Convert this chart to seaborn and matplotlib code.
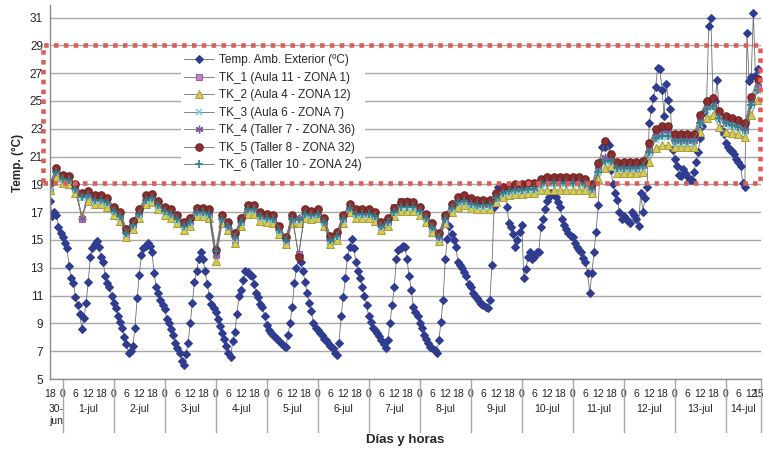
import matplotlib
matplotlib.use('Agg')
import matplotlib.pyplot as plt
import seaborn as sns
from matplotlib.patches import Rectangle

# Temperatura ambiente exterior, un dato por hora (30-jun 18h ... 14-jul 15h)
ext_30jun = [17.8, 16.7, 17.0, 16.8, 15.9, 15.5]
ext_01jul = [15.2, 14.8, 14.4, 13.1, 12.3, 11.9, 10.9, 10.3, 9.7, 8.6, 9.4, 10.5,
             12.0, 13.8, 14.4, 14.7, 14.9, 14.5, 13.8, 13.4, 12.4, 11.9, 11.6, 11.0]
ext_02jul = [10.5, 10.1, 9.5, 9.1, 8.7, 8.0, 7.5, 6.9, 7.0, 7.4, 8.7, 10.8,
             12.5, 13.9, 14.4, 14.6, 14.8, 14.6, 14.1, 12.6, 11.6, 11.2, 10.7, 10.3]
ext_03jul = [10.0, 9.3, 9.0, 8.6, 8.2, 7.6, 7.2, 6.9, 6.3, 6.0, 6.8, 7.6,
             9.0, 10.5, 12.0, 12.8, 13.6, 14.1, 13.6, 12.8, 11.8, 11.0, 10.4, 10.1]
ext_04jul = [9.8, 9.3, 8.8, 8.3, 7.9, 7.4, 6.9, 6.6, 7.7, 8.4, 9.7, 11.0,
             11.4, 12.1, 12.8, 12.7, 12.5, 12.4, 11.8, 11.2, 10.9, 10.4, 10.2, 9.5]
ext_05jul = [8.9, 8.5, 8.3, 8.2, 8.0, 7.9, 7.7, 7.5, 7.4, 7.3, 8.2, 9.0,
             10.2, 11.9, 13.0, 13.9, 13.4, 12.8, 12.0, 11.2, 10.5, 9.9, 9.0, 8.7]
ext_06jul = [8.5, 8.3, 8.2, 7.9, 7.8, 7.6, 7.4, 7.2, 6.9, 6.7, 7.6, 9.5,
             10.9, 12.3, 13.8, 14.5, 15.1, 14.4, 13.4, 12.8, 12.3, 11.6, 11.0, 10.3]
ext_07jul = [9.5, 9.1, 8.7, 8.5, 8.3, 8.1, 7.8, 7.5, 7.2, 7.8, 9.0, 10.3,
             11.6, 13.6, 14.3, 14.4, 14.6, 14.5, 13.6, 12.4, 11.4, 10.2, 9.8, 9.5]
ext_08jul = [9.0, 8.7, 8.2, 7.9, 7.6, 7.3, 7.2, 7.1, 6.9, 7.8, 9.1, 10.7,
             13.6, 15.1, 16.0, 15.4, 15.0, 14.5, 13.4, 13.2, 13.0, 12.7, 12.4, 11.8]
ext_09jul = [11.6, 11.2, 11.0, 10.8, 10.6, 10.4, 10.3, 10.2, 10.1, 10.7, 13.2, 17.4,
             18.4, 18.8, 18.6, 18.5, 18.7, 17.4, 16.2, 15.9, 15.4, 14.5, 15.0, 15.6]
ext_10jul = [16.1, 12.3, 12.9, 13.8, 14.1, 13.6, 13.8, 14.1, 14.1, 15.9, 16.5, 17.2,
             17.8, 18.1, 18.4, 18.4, 18.1, 17.7, 17.4, 16.5, 16.1, 15.8, 15.5, 15.3]
ext_11jul = [15.2, 14.8, 14.5, 14.3, 14.1, 13.7, 13.4, 12.6, 11.2, 12.6, 14.1, 15.6,
             17.5, 20.6, 21.7, 21.7, 22.0, 21.8, 20.0, 19.0, 18.4, 17.9, 17.0, 16.5]
ext_12jul = [16.7, 16.5, 16.4, 16.2, 17.0, 16.8, 16.5, 16.0, 18.4, 17.0, 18.0, 18.8,
             23.4, 24.4, 25.2, 26.0, 27.4, 27.3, 25.8, 23.9, 26.2, 25.1, 24.4, 21.5]
ext_13jul = [20.8, 20.3, 19.7, 19.6, 20.1, 19.8, 19.6, 19.3, 19.3, 19.9, 20.6, 21.3,
             22.3, 23.2, 24.2, 24.9, 30.4, 31.0, 25.2, 25.0, 26.5, 23.8, 23.0, 22.6]
ext_14jul = [22.0, 21.7, 21.5, 21.4, 21.2, 20.8, 20.6, 20.3, 19.1, 18.8, 29.9, 26.4,
             26.7, 31.3, 26.8, 27.3]

temp_ext = (ext_30jun + ext_01jul + ext_02jul + ext_03jul + ext_04jul + ext_05jul
            + ext_06jul + ext_07jul + ext_08jul + ext_09jul + ext_10jul + ext_11jul
            + ext_12jul + ext_13jul + ext_14jul)
horas_ext = list(range(18, 352))          # horas desde 30-jun 0h

# Sondas interiores, un dato cada 3 horas
horas_tk = list(range(18, 352, 3))

tk_1 = [18.5, 19.9, 19.4, 19.3, 18.7, 16.5, 18.2, 17.9, 17.9, 17.7,
        17.1, 16.7, 15.4, 16.1, 16.9, 17.9, 18.0, 17.5, 17.1, 16.9,
        16.5, 16.0, 16.3, 17.0, 17.0, 16.9, 13.9, 16.5, 15.9, 15.0,
        16.3, 17.2, 17.2, 16.7, 16.6, 16.5, 15.7, 14.9, 16.5, 14.0,
        16.9, 16.8, 16.9, 16.3, 14.9, 15.3, 16.5, 17.3, 16.9, 16.9,
        16.9, 16.7, 15.9, 16.3, 17.4, 17.8, 17.8, 17.6, 17.1, 16.6,
        15.8, 15.0, 16.5, 17.4, 17.8, 17.9, 17.7, 17.6, 17.6, 17.6,
        18.1, 18.5, 18.6, 18.7, 18.7, 18.8, 18.8, 19.1, 19.2, 19.2,
        19.2, 19.2, 19.2, 19.2, 19.1, 18.5, 20.1, 20.8, 20.7, 20.2,
        20.2, 20.2, 20.2, 20.4, 21.5, 22.5, 22.7, 22.7, 22.2, 22.2,
        22.2, 22.2, 23.6, 24.6, 24.8, 23.9, 23.5, 23.4, 23.2, 22.9,
        24.9, 26.0]
tk_2 = [18.6, 19.5, 19.1, 19.0, 18.4, 16.8, 17.8, 17.6, 17.6, 17.4,
        16.8, 16.4, 15.2, 15.8, 16.6, 17.6, 17.7, 17.2, 16.8, 16.6,
        16.2, 15.7, 16.0, 16.7, 16.7, 16.6, 13.5, 16.2, 15.7, 14.8,
        16.0, 16.9, 16.9, 16.4, 16.3, 16.2, 15.4, 14.7, 16.2, 16.2,
        16.6, 16.5, 16.6, 16.0, 14.7, 15.0, 16.2, 17.0, 16.6, 16.6,
        16.6, 16.4, 15.7, 16.0, 16.7, 17.1, 17.1, 17.1, 16.8, 16.3,
        15.6, 14.9, 16.2, 17.0, 17.4, 17.5, 17.3, 17.2, 17.2, 17.2,
        17.7, 18.1, 18.2, 18.3, 18.3, 18.4, 18.4, 18.6, 18.6, 18.6,
        18.6, 18.6, 18.6, 18.6, 18.6, 18.4, 19.4, 20.2, 20.3, 19.8,
        19.8, 19.8, 19.8, 19.9, 20.6, 21.6, 21.8, 21.8, 21.7, 21.7,
        21.7, 21.7, 22.8, 23.8, 24.0, 23.1, 22.8, 22.7, 22.6, 22.4,
        24.0, 25.1]
tk_3 = [18.8, 19.8, 19.3, 19.2, 18.6, 18.0, 18.1, 17.8, 17.8, 17.6,
        17.0, 16.6, 15.4, 16.0, 16.8, 17.8, 17.9, 17.4, 17.0, 16.8,
        16.4, 15.9, 16.2, 16.9, 16.9, 16.8, 14.1, 16.4, 15.9, 15.1,
        16.2, 17.1, 17.1, 16.6, 16.5, 16.4, 15.6, 14.9, 16.4, 16.4,
        16.8, 16.7, 16.8, 16.2, 14.9, 15.2, 16.4, 17.2, 16.8, 16.8,
        16.8, 16.6, 15.9, 16.2, 16.9, 17.3, 17.3, 17.3, 17.0, 16.5,
        15.8, 15.1, 16.4, 17.2, 17.6, 17.7, 17.5, 17.4, 17.4, 17.4,
        17.9, 18.3, 18.4, 18.5, 18.5, 18.6, 18.6, 18.9, 19.0, 19.0,
        19.0, 19.0, 19.0, 19.0, 18.9, 18.6, 19.8, 20.6, 20.6, 20.1,
        20.1, 20.1, 20.1, 20.2, 21.2, 22.2, 22.4, 22.4, 22.0, 22.0,
        22.0, 22.0, 23.3, 24.3, 24.5, 23.7, 23.3, 23.2, 23.0, 22.8,
        24.6, 25.7]
tk_4 = [19.0, 20.1, 19.6, 19.5, 18.9, 16.6, 18.4, 18.1, 18.1, 17.9,
        17.3, 16.9, 15.6, 16.3, 17.1, 18.1, 18.2, 17.7, 17.3, 17.1,
        16.7, 16.2, 16.5, 17.2, 17.2, 17.1, 14.0, 16.7, 16.1, 15.3,
        16.5, 17.4, 17.4, 16.9, 16.8, 16.7, 15.9, 15.1, 16.7, 16.6,
        17.1, 17.0, 17.1, 16.5, 15.1, 15.5, 16.7, 17.5, 17.1, 17.1,
        17.1, 16.9, 16.1, 16.5, 17.2, 17.7, 17.8, 17.7, 17.3, 16.8,
        16.0, 15.3, 16.7, 17.6, 18.0, 18.1, 17.9, 17.8, 17.8, 17.8,
        18.3, 18.7, 18.8, 18.9, 18.9, 19.0, 19.0, 19.3, 19.4, 19.4,
        19.4, 19.4, 19.4, 19.4, 19.3, 18.8, 20.3, 21.0, 20.9, 20.4,
        20.4, 20.4, 20.4, 20.5, 21.8, 22.7, 22.9, 22.9, 22.4, 22.4,
        22.4, 22.4, 23.8, 24.8, 25.0, 24.1, 23.7, 23.6, 23.4, 23.1,
        25.1, 26.3]
tk_5 = [19.1, 20.2, 19.7, 19.6, 19.0, 18.4, 18.5, 18.2, 18.2, 18.0,
        17.4, 17.0, 15.8, 16.4, 17.2, 18.2, 18.3, 17.8, 17.4, 17.2,
        16.8, 16.3, 16.6, 17.3, 17.3, 17.2, 14.3, 16.8, 16.3, 15.5,
        16.6, 17.5, 17.5, 17.0, 16.9, 16.8, 16.0, 15.2, 16.8, 13.8,
        17.2, 17.1, 17.2, 16.6, 15.3, 15.6, 16.8, 17.6, 17.2, 17.2,
        17.2, 17.0, 16.3, 16.6, 17.3, 17.7, 17.7, 17.7, 17.4, 16.9,
        16.2, 15.5, 16.8, 17.6, 18.1, 18.2, 18.0, 17.9, 17.9, 17.9,
        18.4, 18.8, 18.9, 19.0, 19.0, 19.1, 19.1, 19.4, 19.5, 19.5,
        19.5, 19.5, 19.5, 19.5, 19.4, 19.0, 20.5, 22.1, 21.2, 20.6,
        20.6, 20.6, 20.6, 20.7, 22.0, 23.0, 23.2, 23.2, 22.6, 22.6,
        22.6, 22.6, 24.0, 25.0, 25.2, 24.3, 23.9, 23.8, 23.6, 23.4,
        25.3, 26.6]
tk_6 = [18.9, 19.9, 19.4, 19.3, 18.7, 18.1, 18.2, 17.9, 17.9, 17.7,
        17.1, 16.7, 15.5, 16.1, 16.9, 17.9, 18.0, 17.5, 17.1, 16.9,
        16.5, 16.0, 16.3, 17.0, 17.0, 16.9, 14.2, 16.5, 16.0, 15.2,
        16.3, 17.2, 17.2, 16.7, 16.6, 16.5, 15.7, 15.0, 16.5, 16.5,
        16.9, 16.8, 16.9, 16.3, 15.0, 15.3, 16.5, 17.3, 16.9, 16.9,
        16.9, 16.7, 16.0, 16.3, 17.0, 17.4, 17.4, 17.4, 17.1, 16.6,
        15.9, 15.2, 16.5, 17.3, 17.7, 17.8, 17.6, 17.5, 17.5, 17.5,
        18.0, 18.4, 18.5, 18.6, 18.6, 18.7, 18.7, 19.0, 19.1, 19.1,
        19.1, 19.1, 19.1, 19.1, 19.0, 18.7, 19.9, 20.7, 20.7, 20.2,
        20.2, 20.2, 20.2, 20.3, 21.3, 22.3, 22.5, 22.5, 22.1, 22.1,
        22.1, 22.1, 23.4, 24.4, 24.6, 23.8, 23.4, 23.3, 23.1, 22.9,
        24.7, 25.8]

dias = ['30-\njun', '1-jul', '2-jul', '3-jul', '4-jul', '5-jul', '6-jul', '7-jul',
        '8-jul', '9-jul', '10-jul', '11-jul', '12-jul', '13-jul', '14-jul']

sns.set_style('white')
plt.rcParams['font.family'] = ['Liberation Sans', 'DejaVu Sans']

fig = plt.figure(figsize=(7.63, 4.49), dpi=100)
ax = fig.add_axes([50 / 763, 70 / 449, 711 / 763, 374 / 449])

line_kw = dict(color='#6e6e6e', linewidth=0.6, errorbar=None, ax=ax)

sns.lineplot(x=horas_ext, y=temp_ext, label='Temp. Amb. Exterior (ºC)', marker='D',
             markersize=4.0, markerfacecolor='#2f3c8f', markeredgecolor='#2f3c8f', **line_kw)
sns.lineplot(x=horas_tk, y=tk_1, label='TK_1 (Aula 11 - ZONA 1)', marker='s',
             markersize=4.2, markerfacecolor='#c67fc9', markeredgecolor='#9a5da2', **line_kw)
sns.lineplot(x=horas_tk, y=tk_2, label='TK_2 (Aula 4 - ZONA 12)', marker='^',
             markersize=5.3, markerfacecolor='#d6cc55', markeredgecolor='#a9a03a', **line_kw)
sns.lineplot(x=horas_tk, y=tk_3, label='TK_3 (Aula 6 - ZONA 7)', marker='x',
             markersize=5, markerfacecolor='#7fd3d6', markeredgecolor='#7fd3d6',
             markeredgewidth=1.2, **line_kw)
sns.lineplot(x=horas_tk, y=tk_4, label='TK_4 (Taller 7 - ZONA 36)', marker=(6, 2, 0),
             markersize=5.5, markerfacecolor='#7d5c9e', markeredgecolor='#7d5c9e',
             markeredgewidth=1.0, **line_kw)
sns.lineplot(x=horas_tk, y=tk_5, label='TK_5 (Taller 8 - ZONA 32)', marker='o',
             markersize=5.4, markerfacecolor='#8c2f2f', markeredgecolor='#6d2020', **line_kw)
sns.lineplot(x=horas_tk, y=tk_6, label='TK_6 (Taller 10 - ZONA 24)', marker='+',
             markersize=5.5, markerfacecolor='#2f7f8c', markeredgecolor='#2f7f8c',
             markeredgewidth=1.2, **line_kw)

ax.set_xlim(18, 352.6)
ax.set_ylim(5, 31.9)
ax.set_yticks(range(5, 32, 2))
ax.yaxis.grid(True, color='#a8a8a8', linewidth=1)
ax.xaxis.grid(False)
ax.set_axisbelow(True)
for s in ['top', 'right']:
    ax.spines[s].set_visible(False)
for s in ['left', 'bottom']:
    ax.spines[s].set_color('#8c8c8c')
    ax.spines[s].set_linewidth(1)

ax.tick_params(axis='y', labelsize=8.5, length=3, color='#8c8c8c', labelcolor='#222222', pad=2)

# etiquetas de horas (el "15" final queda pegado al "12", como en el original)
hour_ticks = [18] + list(range(24, 349, 6)) + [351]
ax.set_xticks(hour_ticks)
ax.set_xticklabels([str(h % 24) for h in hour_ticks])
ax.tick_params(axis='x', labelsize=7.5, length=0, pad=7, labelcolor='#222222')

# etiquetas de dias y separadores
xt = ax.get_xaxis_transform()
centros = [21] + [24 * d + 12 for d in range(1, 14)] + [344.3]
for c, d in zip(centros, dias):
    ax.text(c, -0.066, d, transform=xt, ha='center', va='top', fontsize=7.5,
            color='#222222', linespacing=1.3)
for x in [24 * d for d in range(1, 15)] + [352.6]:
    ax.plot([x, x], [0, -0.142], transform=xt, color='#a8a8a8', lw=1, clip_on=False)

ax.set_xlabel('Días y horas', fontsize=9.5, fontweight='bold')
ax.xaxis.set_label_coords(0.4993, -0.163)
ax.xaxis.label.set_va('center')
ax.set_ylabel('Temp. (°C)', fontsize=8.5, fontweight='bold')
ax.yaxis.set_label_coords(-0.045, 0.578)
ax.yaxis.label.set_va('center')

leg = ax.legend(loc='upper left', bbox_to_anchor=(0.184, 0.878), fontsize=8.5,
                handlelength=2.55, handletextpad=0.35, labelspacing=0.47,
                borderpad=0.3, borderaxespad=0, numpoints=1, frameon=True, fancybox=False)
leg.get_frame().set_facecolor('white')
leg.get_frame().set_edgecolor('none')
leg.get_frame().set_alpha(1)

# recuadro punteado
rect = Rectangle((14.7, 19.1), 352.1 - 14.7, 29.05 - 19.1, fill=False, edgecolor='#d9605a',
                 linewidth=3.3, linestyle=(0, (1, 1.15)), clip_on=False, zorder=10)
rect.set_capstyle('butt')
ax.add_patch(rect)

fig.savefig('out.png', dpi=100)
